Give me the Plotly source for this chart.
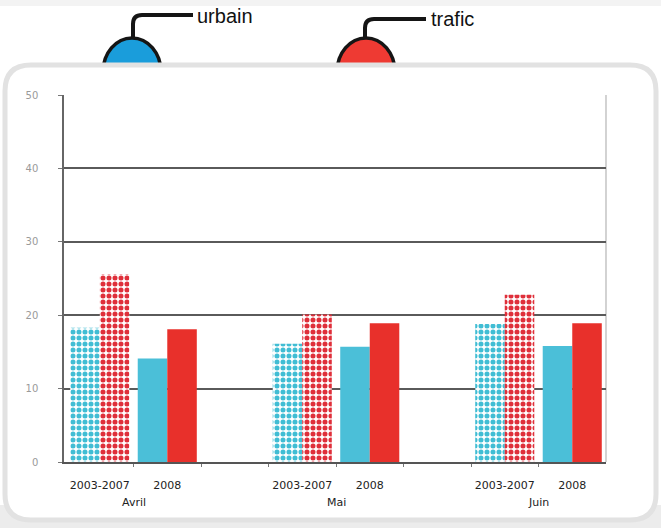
import plotly.graph_objects as go

# ---- data ----
months = ["Avril", "Mai", "Juin"]
periods = ["2003-2007", "2008"]
x_pos = [0, 1, 3, 4, 6, 7]
x_labels = ["2003-2007", "2008", "2003-2007", "2008", "2003-2007", "2008"]
month_pos = [0.5, 3.5, 6.5]
urbain = [18.3, 14.1, 16.1, 15.7, 18.8, 15.8]
trafic = [25.6, 18.1, 20.1, 18.9, 22.8, 18.9]
y_ticks = [0, 10, 20, 30, 40, 50]

W, H = 661, 528
L, R, T, B = 64, 606, 95, 462  # plot area pixel box


def px(x):
    return (x - L) / (R - L)


def py(y):
    return (B - y) / (B - T)


blue_solid = "#4bbfd8"
red_solid = "#e8302b"
blue_dot = "#40bdd4"
red_dot = "#df2f3a"

pat_shape = [".", "", ".", "", ".", ""]

fig = go.Figure()
fig.add_trace(go.Bar(
    x=x_pos, y=urbain, name="urbain", offsetgroup="u",
    marker=dict(color=blue_solid, line=dict(width=0),
                pattern=dict(shape=pat_shape, fgcolor=blue_dot, bgcolor="white",
                             size=6, solidity=0.55, fillmode="replace")),
))
fig.add_trace(go.Bar(
    x=x_pos, y=trafic, name="trafic", offsetgroup="t",
    marker=dict(color=red_solid, line=dict(width=0),
                pattern=dict(shape=pat_shape, fgcolor=red_dot, bgcolor="white",
                             size=6, solidity=0.55, fillmode="replace")),
))

shapes = []
# background bottom strip
shapes.append(dict(type="rect", xref="paper", yref="paper", layer="below",
                   x0=px(0), x1=px(W), y0=py(H), y1=py(505),
                   fillcolor="#ececec", line=dict(width=0)))
shapes.append(dict(type="rect", xref="paper", yref="paper", layer="below",
                   x0=px(0), x1=px(W), y0=py(6), y1=py(0),
                   fillcolor="#f3f3f3", line=dict(width=0)))
# icons (ellipses)
for cx, col in [(132, "#1a9ddb"), (366, "#ee3a33")]:
    shapes.append(dict(type="circle", xref="paper", yref="paper", layer="below",
                       x0=px(cx - 29), x1=px(cx + 29), y0=py(106), y1=py(38),
                       fillcolor=col, line=dict(color="#151515", width=3.5)))


# cables
def cable(xv, ybot, yh, xend):
    r = 9
    p = (f"M {px(xv)},{py(ybot)} L {px(xv)},{py(yh + r)} "
         f"Q {px(xv)},{py(yh)} {px(xv + r)},{py(yh)} L {px(xend)},{py(yh)}")
    return dict(type="path", xref="paper", yref="paper", layer="below", path=p,
                line=dict(color="#151515", width=4))


shapes.append(cable(133, 38, 15, 193))
shapes.append(cable(365, 38, 19, 426))

# panel with rounded corners
x0, x1, y0, y1, rr = 5, 656, 65, 520, 26


def rounded(x0, y0, x1, y1, r):
    return (f"M {px(x0 + r)},{py(y0)} L {px(x1 - r)},{py(y0)} "
            f"Q {px(x1)},{py(y0)} {px(x1)},{py(y0 + r)} "
            f"L {px(x1)},{py(y1 - r)} Q {px(x1)},{py(y1)} {px(x1 - r)},{py(y1)} "
            f"L {px(x0 + r)},{py(y1)} Q {px(x0)},{py(y1)} {px(x0)},{py(y1 - r)} "
            f"L {px(x0)},{py(y0 + r)} Q {px(x0)},{py(y0)} {px(x0 + r)},{py(y0)} Z")


shapes.append(dict(type="path", xref="paper", yref="paper", layer="below",
                   path=rounded(x0, y0, x1, y1, rr), fillcolor="white",
                   line=dict(color="#e2e2e2", width=5)))
# right frame line of plot area
shapes.append(dict(type="line", xref="paper", yref="paper", layer="below",
                   x0=1, x1=1, y0=0, y1=1, line=dict(color="#b5b5b5", width=1.2)))

annotations = [
    dict(text="urbain", x=px(195), y=py(16), xref="paper", yref="paper",
         xanchor="left", yanchor="middle", showarrow=False,
         font=dict(family="Liberation Sans Narrow, Arial Narrow, Liberation Sans", size=20, color="#111")),
    dict(text="trafic", x=px(429), y=py(19), xref="paper", yref="paper",
         xanchor="left", yanchor="middle", showarrow=False,
         font=dict(family="Liberation Sans Narrow, Arial Narrow, Liberation Sans", size=20, color="#111")),
]
for m, mp in zip(months, month_pos):
    annotations.append(dict(text=m, x=mp, xref="x", y=py(502), yref="paper",
                            xanchor="center", yanchor="middle", showarrow=False,
                            font=dict(family="DejaVu Sans", size=11, color="#222")))

fig.update_layout(
    width=W, height=H,
    margin=dict(l=L, r=W - R, t=T, b=H - B, pad=0),
    paper_bgcolor="white", plot_bgcolor="rgba(0,0,0,0)",
    showlegend=False,
    barmode="group", bargap=0.125, bargroupgap=0,
    shapes=shapes, annotations=annotations,
    xaxis=dict(range=[-0.53, 7.5], tickmode="array", tickvals=x_pos, ticktext=x_labels,
               ticks="", showgrid=False, zeroline=False,
               showline=True, linecolor="#555", linewidth=2,
               tickfont=dict(family="DejaVu Sans", size=11, color="#222"),
               ticklabelstandoff=12,
               minor=dict(tickmode="array", tickvals=[0.5, 1.5, 2.5, 3.5, 4.5, 5.5, 6.5],
                          ticks="outside", ticklen=3, tickcolor="#777", tickwidth=1)),
    yaxis=dict(range=[0, 50], tickmode="array", tickvals=y_ticks,
               showgrid=True, gridcolor="#5a5a5a", gridwidth=1.5,
               zeroline=False, showline=True, linecolor="#666", linewidth=1.5,
               ticks="outside", ticklen=4, tickcolor="#777",
               ticklabelstandoff=18,
               tickfont=dict(family="DejaVu Sans", size=10, color="#9a9a9a")),
)

fig.write_html("out.html", config={"displayModeBar": False},
               post_script="document.body.style.margin='0';document.body.style.overflow='hidden';")
